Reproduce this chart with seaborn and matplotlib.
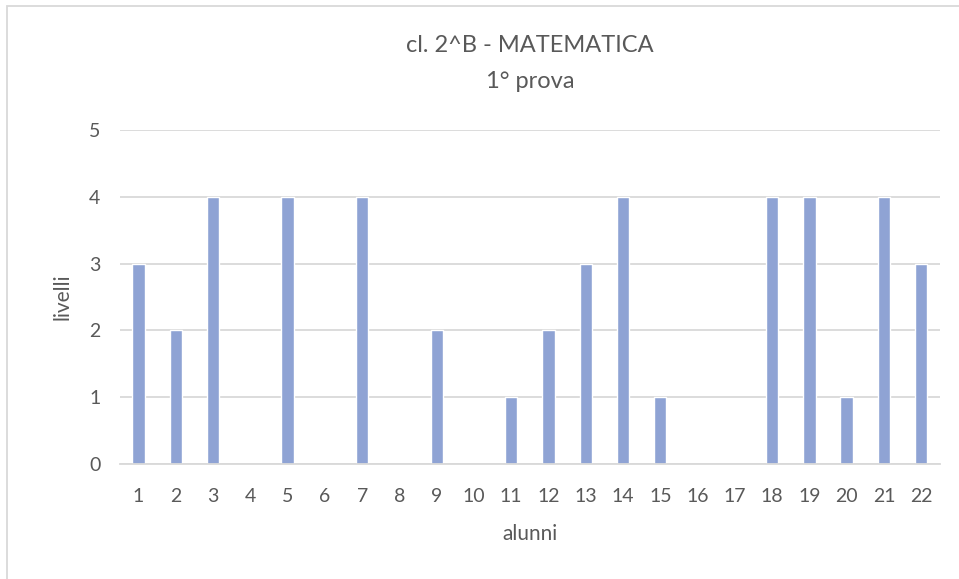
import matplotlib
matplotlib.use('Agg')
import matplotlib.pyplot as plt
import seaborn as sns
import pandas as pd
from matplotlib.patches import Rectangle

alunni = [str(i) for i in range(1, 23)]
livelli = [3, 2, 4, 0, 4, 0, 4, 0, 2, 0, 1, 2, 3, 4, 1, 0, 0, 4, 4, 1, 4, 3]

df = pd.DataFrame({'alunni': alunni, 'livelli': livelli})

sns.set_theme(style='white')
plt.rcParams['font.family'] = ['Lato', 'DejaVu Sans']
txt = '#595959'

fig = plt.figure(figsize=(9.59, 5.79), dpi=100)
ax = fig.add_axes([0.125, 0.1986, 0.855, 0.5769])

sns.barplot(data=df, x='alunni', y='livelli', color='#8FA3D4', saturation=1,
            width=0.33, ax=ax)

ax.set_ylim(0, 5)
ax.set_yticks(range(0, 6))
ax.yaxis.grid(True, color='#d9d9d9', linewidth=1.3)
ax.set_axisbelow(True)
for s in ['top', 'right', 'left']:
    ax.spines[s].set_visible(False)
ax.spines['bottom'].set_color('#d9d9d9')
ax.spines['bottom'].set_linewidth(1.3)
ax.tick_params(axis='both', length=0, labelsize=14, labelcolor=txt)
ax.tick_params(axis='y', pad=14)
ax.tick_params(axis='x', pad=17)

ax.set_xlabel('alunni', fontsize=15, color=txt, labelpad=14)
ax.set_ylabel('livelli', fontsize=15, color=txt, labelpad=12)
ax.set_title('cl. 2^B - MATEMATICA\n1° prova', fontsize=17, color=txt,
             pad=30, linespacing=1.9)

fig.patches.append(Rectangle((7 / 959, -0.05), 1.0, 1 - 6 / 579 + 0.05,
                             transform=fig.transFigure, fill=False,
                             edgecolor='#d9d9d9', linewidth=1.3))

fig.savefig('out.png', dpi=100)
